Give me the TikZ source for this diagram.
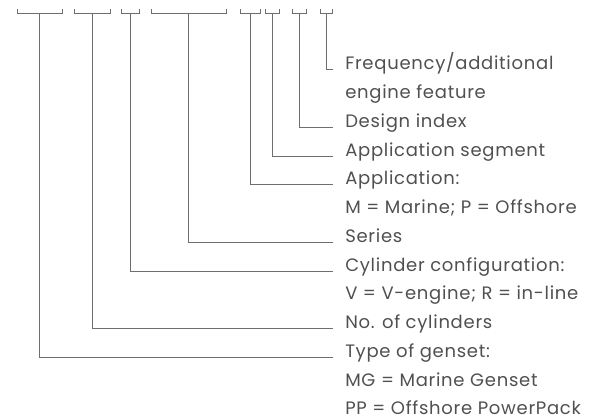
\documentclass[tikz,border=0pt]{standalone}
\usepackage{fontspec}
\setmainfont[LetterSpace=4]{Poppins}
\definecolor{wiregray}{HTML}{6E6E6E}
\definecolor{textgray}{HTML}{505050}
\tikzset{
    lbl/.style={anchor=base west,inner sep=0pt,text=textgray,font=\fontsize{13.5}{16}\selectfont},
    wire/.style={draw=wiregray,line width=0.75pt},
}
\newcommand
    {\codebracket}[3]
    {%
        \draw[wire] (#1,9) -- (#1,14) -- (#2,14) -- (#2,9);%
        \coordinate (#3) at ({(#1+#2)/2},14);%
    }

\begin{document}
\begin{tikzpicture}[x=0.75pt,y=-0.75pt]
        \useasboundingbox (0,0) rectangle (601,420);

        % 1. Brackets over the code positions
        \foreach \l/\r/\n in {17/62/b1,74/110/b2,121/139/b3,151/226/b4,240/260/b5,265/279/b6,292/306/b7,320/332/b8}
            {\codebracket{\l}{\r}{\n}}

        % 2. Labels, top to bottom
        \node (t8)  at (345,70)     [lbl] {Frequency/additional};
        \node (t8b) at (345,98.75)  [lbl] {engine feature};
        \node (t7)  at (345,127.5)  [lbl] {Design index};
        \node (t6)  at (345,156.25) [lbl] {Application segment};
        \node (t5)  at (345,185)    [lbl] {Application:};
        \node (t5b) at (345,213.75) [lbl] {M = Marine; P = Offshore};
        \node (t4)  at (345,242.5)  [lbl] {Series};
        \node (t3)  at (345,271.25) [lbl] {Cylinder configuration:};
        \node (t3b) at (345,300)    [lbl] {V = V-engine; R = in-line};
        \node (t2)  at (345,328.75) [lbl] {No. of cylinders};
        \node (t1)  at (345,357.5)  [lbl] {Type of genset:};
        \node (t1b) at (345,386.25) [lbl] {MG = Marine Genset};
        \node (t1c) at (345,415)    [lbl] {PP = Offshore PowerPack};

        % 3. Leader lines from each bracket to its label
        \foreach \n in {1,...,8}
            {\draw[wire] (b\n) |- ([xshift=-9pt]t\n.base west);}
    \end{tikzpicture}
\end{document}
